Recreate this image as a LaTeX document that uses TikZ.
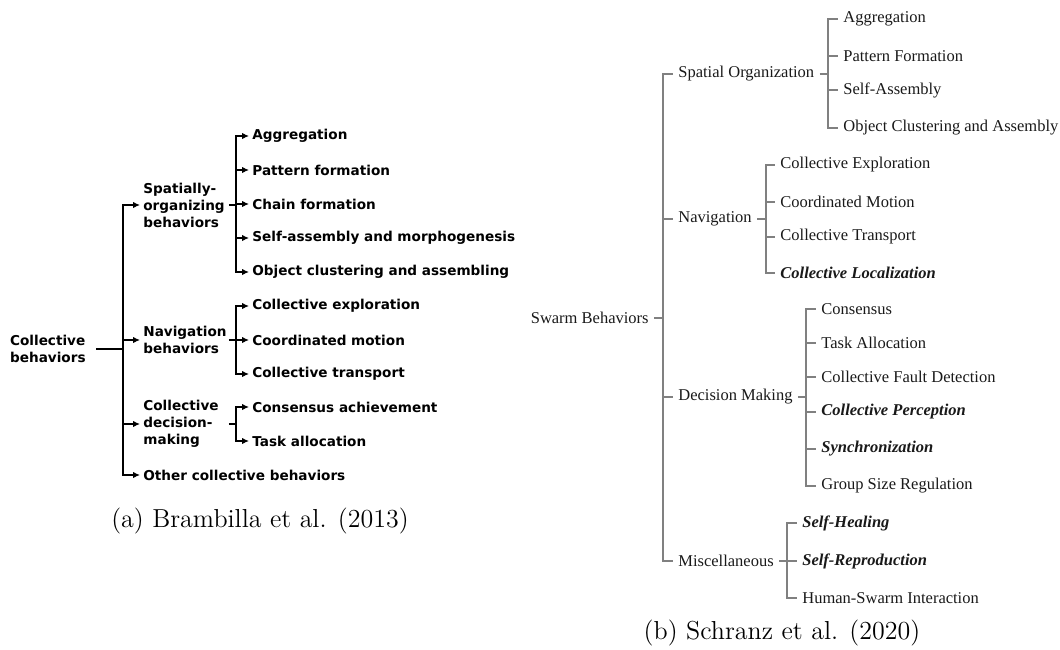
\documentclass[tikz,border=0pt]{standalone}
\usepackage{fontspec}
\newfontfamily\dejavu{DejaVu Sans}
\newfontfamily\timesr{Liberation Serif}
\usetikzlibrary{arrows.meta}

\begin{document}
\begin{tikzpicture}[x=0.5pt,y=-0.5pt,
    tipa/.style={-{Latex[length=3.4pt,width=3.2pt]}},
    lefttree/.style={line width=0.9pt,black},
    righttree/.style={line width=0.55pt,black!50},
    caption/.style={font=\fontsize{13}{15}\selectfont,inner sep=0pt}]

      \useasboundingbox (0,0) rectangle (1060,649);

      % (a) Brambilla et al.
      \begin{scope}[every node/.style={anchor=west,inner sep=1.5pt,align=left,
          font=\dejavu\bfseries\fontsize{6.8}{8.5}\selectfont}]
        \node[anchor=east,inner sep=5pt] (a0) at (96,349) {Collective\\behaviors};
        \node[text width=41pt] (a1)  at (140,205) {Spatially-\\organizing\\behaviors};
        \node[text width=41pt] (a2)  at (140,340) {Navigation\\behaviors};
        \node[text width=41pt] (a3)  at (140,424) {Collective\\decision-\\making};
        \node (a4)  at (140,475) {Other collective behaviors};
        \node (a5)  at (249,136) {Aggregation};
        \node (a6)  at (249,170) {Pattern formation};
        \node (a7)  at (249,204) {Chain formation};
        \node (a8)  at (249,238) {Self-assembly and morphogenesis};
        \node (a9)  at (249,272) {Object clustering and assembling};
        \node (a10) at (249,306) {Collective exploration};
        \node (a11) at (249,340) {Coordinated motion};
        \node (a12) at (249,374) {Collective transport};
        \node (a13) at (249,407) {Consensus achievement};
        \node (a14) at (249,441) {Task allocation};
      \end{scope}

      \coordinate (ja) at (123,349);
      \coordinate (jb) at (236,205);
      \coordinate (jc) at (236,340);
      \coordinate (jd) at (236,424);

      \begin{scope}[lefttree]
        \draw (a0) -- (ja);
        \draw[tipa] (ja) |- (a1);
        \draw[tipa] (ja) |- (a2);
        \draw[tipa] (ja) |- (a3);
        \draw[tipa] (ja) |- (a4);
        \draw (a1) -- (jb);
        \draw[tipa] (jb) |- (a5);
        \draw[tipa] (jb) |- (a6);
        \draw[tipa] (jb) |- (a7);
        \draw[tipa] (jb) |- (a8);
        \draw[tipa] (jb) |- (a9);
        \draw (a2) -- (jc);
        \draw[tipa] (jc) |- (a10);
        \draw[tipa] (jc) |- (a11);
        \draw[tipa] (jc) |- (a12);
        \draw (a3) -- (jd);
        \draw[tipa] (jd) |- (a13);
        \draw[tipa] (jd) |- (a14);
      \end{scope}

      % (b) Schranz et al.
      \begin{scope}[every node/.style={anchor=west,inner sep=2.5pt,text=black!90,
          font=\timesr\fontsize{8.25}{10}\selectfont},
          bi/.style={font=\timesr\bfseries\itshape\fontsize{8.25}{10}\selectfont}]
        \node[anchor=east] (b0) at (654,318) {Swarm Behaviors};
        \node (b1)  at (673,74)  {Spatial Organization};
        \node (b2)  at (673,219) {Navigation};
        \node (b3)  at (673,397) {Decision Making};
        \node (b4)  at (673,561) {Miscellaneous};
        \node (b5)  at (838,19)  {Aggregation};
        \node (b6)  at (838,56)  {Pattern Formation};
        \node (b7)  at (838,90)  {Self-Assembly};
        \node (b8)  at (838,128) {Object Clustering and Assembly};
        \node (b9)  at (775,165) {Collective Exploration};
        \node (b10) at (775,202) {Coordinated Motion};
        \node (b11) at (775,237) {Collective Transport};
        \node[bi] (b12) at (775,273) {Collective Localization};
        \node (b13) at (816,309) {Consensus};
        \node (b14) at (816,343) {Task Allocation};
        \node (b15) at (816,377) {Collective Fault Detection};
        \node[bi] (b16) at (816,412) {Collective Perception};
        \node[bi] (b17) at (816,449) {Synchronization};
        \node (b18) at (816,486) {Group Size Regulation};
        \node[bi] (b19) at (797,523) {Self-Healing};
        \node[bi] (b20) at (797,561) {Self-Reproduction};
        \node (b21) at (797,598) {Human-Swarm Interaction};
      \end{scope}

      \coordinate (k0) at (663,318);
      \coordinate (k1) at (828,74);
      \coordinate (k2) at (766,219);
      \coordinate (k3) at (806,397);
      \coordinate (k4) at (787,561);

      \begin{scope}[righttree]
        \draw (b0) -- (k0);
        \foreach \i in {1,...,4} \draw (k0) |- (b\i);
        \draw (b1) -- (k1);
        \foreach \i in {5,...,8} \draw (k1) |- (b\i);
        \draw (b2) -- (k2);
        \foreach \i in {9,...,12} \draw (k2) |- (b\i);
        \draw (b3) -- (k3);
        \foreach \i in {13,...,18} \draw (k3) |- (b\i);
        \draw (b4) -- (k4);
        \foreach \i in {19,...,21} \draw (k4) |- (b\i);
      \end{scope}

      \node[caption] (capa) at (260,521) {(a) Brambilla et al. (2013)};
      \node[caption] (capb) at (782,633) {(b) Schranz et al. (2020)};

    \end{tikzpicture}
\end{document}
